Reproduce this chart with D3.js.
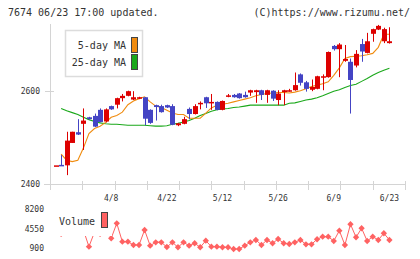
<!DOCTYPE html>
<html>
<head>
<meta charset="utf-8">
<script src="https://cdn.jsdelivr.net/npm/d3@7"></script>
<style>
  body { margin: 0; background: #fff; }
  text { font-family: "DejaVu Sans Mono", monospace; fill: #333; }
</style>
</head>
<body>
<script>
// daily bars, oldest first
const dates = ["3/25","3/26","3/27","3/28","3/31","4/1","4/2","4/3","4/4","4/7",
  "4/8","4/9","4/10","4/11","4/14","4/15","4/16","4/17","4/18","4/21",
  "4/22","4/23","4/24","4/25","4/28","4/30","5/1","5/7","5/8","5/9",
  "5/12","5/13","5/14","5/15","5/16","5/19","5/20","5/21","5/22","5/23",
  "5/26","5/27","5/28","5/29","5/30","6/2","6/3","6/4","6/5","6/6",
  "6/9","6/10","6/11","6/12","6/13","6/16","6/17","6/18","6/19","6/20","6/23"];

const opens = [2440,2441,2440,2488,2511,2529,2543,2546,2559,2534,
  2567,2570,2584,2589,2581,2583,2586,2559,2569,2567,
  2569,2567,2526,2529,2561,2550,2571,2586,2574,2576,
  2559,2588,2591,2594,2591,2596,2597,2601,2591,2600,
  2580,2597,2599,2601,2635,2618,2602,2604,2628,2629,
  2696,2689,2664,2662,2654,2700,2681,2722,2731,2706,2702];
const highs = [2440,2462,2512,2512,2539,2562,2544,2551,2562,2562,
  2568,2585,2593,2600,2599,2587,2586,2560,2570,2570,
  2570,2571,2531,2544,2564,2571,2577,2587,2593,2577,
  2579,2593,2593,2595,2598,2602,2602,2602,2602,2601,
  2601,2602,2604,2639,2637,2621,2624,2632,2635,2684,
  2698,2702,2698,2669,2687,2711,2724,2733,2741,2735,2736];
const lows = [2440,2440,2419,2488,2505,2473,2538,2522,2532,2532,
  2559,2562,2577,2588,2580,2582,2526,2529,2536,2553,
  2563,2526,2524,2528,2539,2549,2560,2563,2559,2558,
  2558,2586,2585,2583,2585,2589,2574,2580,2574,2578,
  2569,2569,2598,2600,2611,2598,2599,2603,2601,2628,
  2686,2629,2662,2551,2650,2662,2680,2705,2730,2702,2701];
const closes = [2440,2440,2493,2512,2506,2536,2539,2523,2533,2560,
  2560,2584,2589,2599,2586,2586,2540,2531,2565,2554,
  2564,2527,2530,2539,2550,2567,2574,2573,2576,2559,
  2578,2590,2586,2584,2586,2601,2601,2591,2601,2583,
  2594,2601,2601,2612,2617,2604,2608,2631,2631,2683,
  2689,2699,2668,2623,2679,2684,2706,2732,2739,2732,2706];

const ma5 = [null,2464,2451,2448,2451,2477,2508,2519,2524,2532,
  2543,2547,2554,2570,2578,2583,2587,2576,2567,2564,
  2558,2552,2549,2549,2541,2541,2541,2552,2563,2569,
  2571,2573,2576,2579,2582,2585,2589,2592,2594,2595,
  2596,2596,2595,2597,2600,2604,2609,2612,2615,2619,
  2633,2649,2669,2673,2674,2675,2677,2680,2693,2721,2721];
const ma25 = [null,2562,2557,2553,2549,2543,2538,2534,2531,2529,
  2528,2528,2527,2526,2526,2526,2526,2525,2524,2524,
  2525,2528,2530,2533,2536,2541,2547,2551,2556,2559,
  2561,2562,2564,2565,2567,2569,2569,2569,2569,2569,
  2569,2569,2573,2574,2577,2580,2582,2585,2589,2594,
  2599,2602,2607,2611,2614,2620,2626,2633,2639,2644,2648];

const volumes = [4300,3550,5000,5750,4300,4300,1200,3900,3550,4650,
  2750,5520,2120,2120,1510,1510,4280,1380,2010,2010,
  1140,2010,1090,2010,1380,1830,1090,2310,1200,1200,
  1090,1090,770,770,1380,2010,2440,1510,2440,1830,
  2620,1830,1700,2010,2440,1640,1640,2570,3050,3050,
  2250,4160,1510,5340,2940,4600,2250,3050,2440,3680,2440];

const priceTicks = [2400, 2600];
const volTicks = [8200, 4550, 900];
const tickLabels = ["4/8","4/22","5/12","5/26","6/9","6/23"];

const width = 420;
const height = 259;

const svg = d3.select('body').append('svg')
  .attr('width', width)
  .attr('height', height);

svg.append('rect').attr('width', width).attr('height', height).attr('fill', '#fff');

const x = d3.scaleLinear().domain([-1, 62.8]).range([50, 405]);
const y = d3.scaleLinear().domain([2400, 2743]).range([184, 24]);
const yv = d3.scaleLinear().domain([900, 8200]).range([248.3, 208.8]);

const axisColor = '#d4d4d4';
const up = '#dd0000';
const down = '#4444c4';

// header
svg.append('text').attr('x', 8).attr('y', 16).attr('font-size', 10)
  .text('7674 06/23 17:00 updated.');
svg.append('text').attr('x', 410).attr('y', 16).attr('font-size', 10)
  .attr('text-anchor', 'end')
  .text('(C)https://www.rizumu.net/');

// axes
svg.append('line')
  .attr('x1', 50.5).attr('x2', 50.5).attr('y1', 24).attr('y2', 190)
  .attr('stroke', axisColor);
svg.append('line')
  .attr('x1', 44).attr('x2', 406).attr('y1', y(2400) + 0.5).attr('y2', y(2400) + 0.5)
  .attr('stroke', axisColor);

svg.selectAll('.ytick')
  .data(priceTicks)
  .join('line')
  .attr('class', 'ytick')
  .attr('x1', 45).attr('x2', 54)
  .attr('y1', d => Math.round(y(d)) + 0.5).attr('y2', d => Math.round(y(d)) + 0.5)
  .attr('stroke', axisColor);

svg.selectAll('.ylab')
  .data(priceTicks)
  .join('text')
  .attr('class', 'ylab')
  .attr('x', 40).attr('y', d => y(d) + 3)
  .attr('text-anchor', 'end')
  .attr('font-size', 8)
  .text(d => d);

// evenly spaced ticks along the bottom
svg.selectAll('.xtick')
  .data(d3.range(12))
  .join('line')
  .attr('class', 'xtick')
  .attr('x1', k => Math.round(50 + k * 355 / 11) + 0.5)
  .attr('x2', k => Math.round(50 + k * 355 / 11) + 0.5)
  .attr('y1', 181).attr('y2', 190)
  .attr('stroke', axisColor);

svg.selectAll('.xlab')
  .data(tickLabels)
  .join('text')
  .attr('class', 'xlab')
  .attr('x', d => x(dates.indexOf(d)))
  .attr('y', 201)
  .attr('text-anchor', 'middle')
  .attr('font-size', 8)
  .text(d => d);

// moving averages
const ma = (vals, color) => {
  const line = d3.line()
    .defined(d => d != null)
    .x((d, i) => x(i))
    .y(d => y(d));
  svg.append('path')
    .attr('d', line(vals))
    .attr('fill', 'none')
    .attr('stroke', color)
    .attr('stroke-width', 1.1);
};
ma(ma25, '#1aa81a');
ma(ma5, '#f08c10');

// candles
const candles = svg.selectAll('.candle')
  .data(dates.map((d, i) => ({i, o: opens[i], h: highs[i], l: lows[i], c: closes[i]})))
  .join('g')
  .attr('class', 'candle');

candles.append('line')
  .attr('x1', d => Math.round(x(d.i)) + 0.5)
  .attr('x2', d => Math.round(x(d.i)) + 0.5)
  .attr('y1', d => y(d.h))
  .attr('y2', d => y(d.l))
  .attr('stroke', d => d.c >= d.o ? up : down);

candles.append('rect')
  .attr('x', d => Math.round(x(d.i)) - 2)
  .attr('width', 5)
  .attr('y', d => y(Math.max(d.o, d.c)))
  .attr('height', d => Math.max(1.5, Math.abs(y(d.o) - y(d.c))))
  .attr('fill', d => d.c >= d.o ? up : down);

// price legend
const leg = svg.append('g');
leg.append('rect')
  .attr('x', 65.5).attr('y', 30.5).attr('width', 77).attr('height', 46)
  .attr('fill', '#fff').attr('stroke', '#dcdcdc').attr('stroke-width', 1.5);
const legItems = [["5-day MA", '#f08c10'], ["25-day MA", '#1aa81a']];
leg.selectAll('text')
  .data(legItems)
  .join('text')
  .attr('x', 126).attr('y', (d, i) => 49 + i * 17)
  .attr('text-anchor', 'end')
  .attr('font-size', 10)
  .text(d => d[0]);
leg.selectAll('.sw')
  .data(legItems)
  .join('rect')
  .attr('class', 'sw')
  .attr('x', 131.5).attr('y', (d, i) => 37.5 + i * 17)
  .attr('width', 6).attr('height', 15)
  .attr('fill', d => d[1])
  .attr('stroke', '#444');

// volume
svg.selectAll('.vlab')
  .data(volTicks)
  .join('text')
  .attr('class', 'vlab')
  .attr('x', 44).attr('y', d => yv(d) + 3)
  .attr('text-anchor', 'end')
  .attr('font-size', 8)
  .text(d => d);

const vcolor = '#ff6262';
svg.append('path')
  .attr('d', d3.line().x((d, i) => x(i)).y(d => yv(d))(volumes))
  .attr('fill', 'none')
  .attr('stroke', vcolor)
  .attr('stroke-width', 1);

svg.selectAll('.vpt')
  .data(volumes)
  .join('path')
  .attr('class', 'vpt')
  .attr('d', d3.symbol(d3.symbolSquare, 20))
  .attr('transform', (d, i) => `translate(${x(i)},${yv(d)}) rotate(45)`)
  .attr('fill', vcolor);

// volume legend sits over the first points
svg.append('rect')
  .attr('x', 52).attr('y', 205).attr('width', 60).attr('height', 31)
  .attr('fill', '#fff');
svg.append('text')
  .attr('x', 59).attr('y', 225)
  .attr('font-size', 10)
  .text('Volume');
svg.append('rect')
  .attr('x', 101.5).attr('y', 212.5).attr('width', 6).attr('height', 15)
  .attr('fill', vcolor).attr('stroke', '#444');
</script>
</body>
</html>
